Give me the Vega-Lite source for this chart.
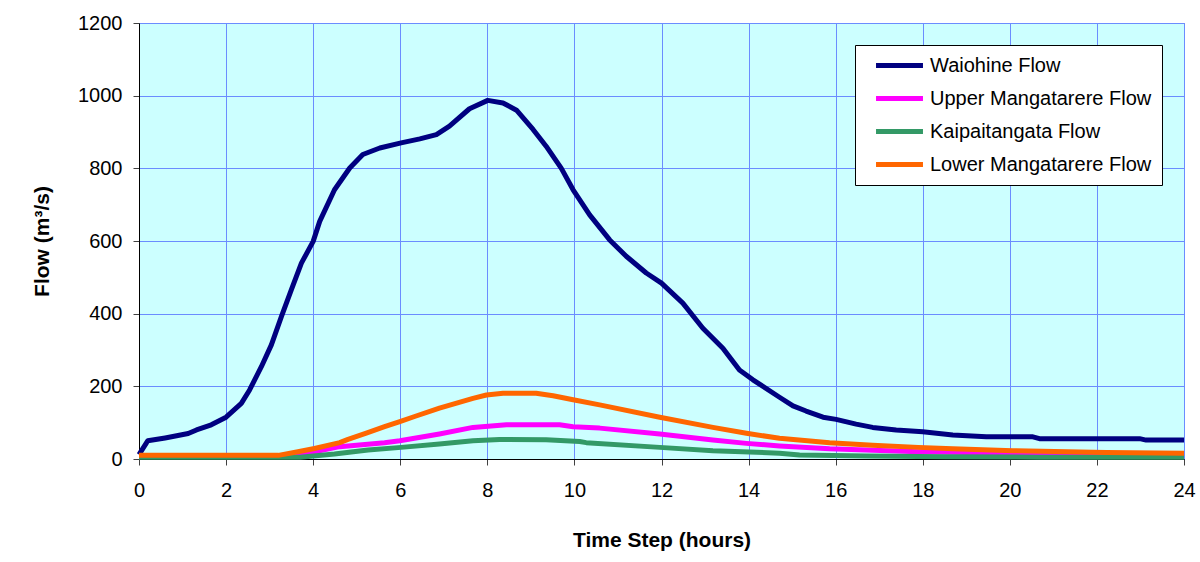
{
  "$schema": "https://vega.github.io/schema/vega-lite/v6.json",
  "width": 1045,
  "height": 436,
  "autosize": {"type": "none"},
  "padding": {"left": 139, "top": 23, "right": 16, "bottom": 103},
  "background": "white",
  "config": {
    "font": "Liberation Sans",
    "view": {"fill": "#CCFFFF", "stroke": "#808080", "strokeWidth": 1}
  },
  "data": {
    "values": [
      {"t": 0, "flow": 12, "series": "Waiohine Flow"},
      {"t": 0.2, "flow": 50, "series": "Waiohine Flow"},
      {"t": 0.6, "flow": 58, "series": "Waiohine Flow"},
      {"t": 1.13, "flow": 70, "series": "Waiohine Flow"},
      {"t": 1.32, "flow": 80, "series": "Waiohine Flow"},
      {"t": 1.66, "flow": 94, "series": "Waiohine Flow"},
      {"t": 2.0, "flow": 115, "series": "Waiohine Flow"},
      {"t": 2.35, "flow": 153, "series": "Waiohine Flow"},
      {"t": 2.54, "flow": 190, "series": "Waiohine Flow"},
      {"t": 2.81, "flow": 254, "series": "Waiohine Flow"},
      {"t": 3.04, "flow": 314, "series": "Waiohine Flow"},
      {"t": 3.27, "flow": 392, "series": "Waiohine Flow"},
      {"t": 3.5, "flow": 466, "series": "Waiohine Flow"},
      {"t": 3.73, "flow": 539, "series": "Waiohine Flow"},
      {"t": 4.0, "flow": 599, "series": "Waiohine Flow"},
      {"t": 4.15, "flow": 654, "series": "Waiohine Flow"},
      {"t": 4.49, "flow": 741, "series": "Waiohine Flow"},
      {"t": 4.84, "flow": 801, "series": "Waiohine Flow"},
      {"t": 5.14, "flow": 838, "series": "Waiohine Flow"},
      {"t": 5.53, "flow": 856, "series": "Waiohine Flow"},
      {"t": 6.02, "flow": 870, "series": "Waiohine Flow"},
      {"t": 6.45, "flow": 881, "series": "Waiohine Flow"},
      {"t": 6.83, "flow": 893, "series": "Waiohine Flow"},
      {"t": 7.13, "flow": 916, "series": "Waiohine Flow"},
      {"t": 7.59, "flow": 964, "series": "Waiohine Flow"},
      {"t": 8.01, "flow": 987, "series": "Waiohine Flow"},
      {"t": 8.36, "flow": 980, "series": "Waiohine Flow"},
      {"t": 8.67, "flow": 960, "series": "Waiohine Flow"},
      {"t": 9.05, "flow": 907, "series": "Waiohine Flow"},
      {"t": 9.35, "flow": 861, "series": "Waiohine Flow"},
      {"t": 9.7, "flow": 800, "series": "Waiohine Flow"},
      {"t": 9.97, "flow": 741, "series": "Waiohine Flow"},
      {"t": 10.35, "flow": 672, "series": "Waiohine Flow"},
      {"t": 10.81, "flow": 603, "series": "Waiohine Flow"},
      {"t": 11.19, "flow": 558, "series": "Waiohine Flow"},
      {"t": 11.65, "flow": 512, "series": "Waiohine Flow"},
      {"t": 12.0, "flow": 484, "series": "Waiohine Flow"},
      {"t": 12.49, "flow": 429, "series": "Waiohine Flow"},
      {"t": 12.95, "flow": 360, "series": "Waiohine Flow"},
      {"t": 13.41, "flow": 305, "series": "Waiohine Flow"},
      {"t": 13.79, "flow": 245, "series": "Waiohine Flow"},
      {"t": 14.1, "flow": 218, "series": "Waiohine Flow"},
      {"t": 14.71, "flow": 170, "series": "Waiohine Flow"},
      {"t": 15.02, "flow": 146, "series": "Waiohine Flow"},
      {"t": 15.32, "flow": 132, "series": "Waiohine Flow"},
      {"t": 15.71, "flow": 115, "series": "Waiohine Flow"},
      {"t": 16.01, "flow": 109, "series": "Waiohine Flow"},
      {"t": 16.47, "flow": 96, "series": "Waiohine Flow"},
      {"t": 16.85, "flow": 87, "series": "Waiohine Flow"},
      {"t": 17.39, "flow": 80, "series": "Waiohine Flow"},
      {"t": 18.0, "flow": 75, "series": "Waiohine Flow"},
      {"t": 18.69, "flow": 66, "series": "Waiohine Flow"},
      {"t": 19.46, "flow": 61, "series": "Waiohine Flow"},
      {"t": 20.53, "flow": 61, "series": "Waiohine Flow"},
      {"t": 20.68, "flow": 56, "series": "Waiohine Flow"},
      {"t": 22.98, "flow": 56, "series": "Waiohine Flow"},
      {"t": 23.13, "flow": 52, "series": "Waiohine Flow"},
      {"t": 24, "flow": 52, "series": "Waiohine Flow"},

      {"t": 0, "flow": 8, "series": "Upper Mangatarere Flow"},
      {"t": 3.2, "flow": 8, "series": "Upper Mangatarere Flow"},
      {"t": 3.8, "flow": 16, "series": "Upper Mangatarere Flow"},
      {"t": 4.03, "flow": 20, "series": "Upper Mangatarere Flow"},
      {"t": 4.61, "flow": 34, "series": "Upper Mangatarere Flow"},
      {"t": 5.64, "flow": 45, "series": "Upper Mangatarere Flow"},
      {"t": 5.99, "flow": 50, "series": "Upper Mangatarere Flow"},
      {"t": 6.9, "flow": 69, "series": "Upper Mangatarere Flow"},
      {"t": 7.67, "flow": 87, "series": "Upper Mangatarere Flow"},
      {"t": 8.44, "flow": 94, "series": "Upper Mangatarere Flow"},
      {"t": 9.66, "flow": 94, "series": "Upper Mangatarere Flow"},
      {"t": 9.97, "flow": 89, "series": "Upper Mangatarere Flow"},
      {"t": 10.58, "flow": 85, "series": "Upper Mangatarere Flow"},
      {"t": 11.96, "flow": 69, "series": "Upper Mangatarere Flow"},
      {"t": 13.18, "flow": 52, "series": "Upper Mangatarere Flow"},
      {"t": 13.95, "flow": 43, "series": "Upper Mangatarere Flow"},
      {"t": 14.71, "flow": 36, "series": "Upper Mangatarere Flow"},
      {"t": 15.86, "flow": 28, "series": "Upper Mangatarere Flow"},
      {"t": 16.85, "flow": 24, "series": "Upper Mangatarere Flow"},
      {"t": 17.9, "flow": 20, "series": "Upper Mangatarere Flow"},
      {"t": 20.07, "flow": 16, "series": "Upper Mangatarere Flow"},
      {"t": 22, "flow": 13, "series": "Upper Mangatarere Flow"},
      {"t": 24, "flow": 12, "series": "Upper Mangatarere Flow"},

      {"t": 0, "flow": 5, "series": "Kaipaitangata Flow"},
      {"t": 3.7, "flow": 5, "series": "Kaipaitangata Flow"},
      {"t": 4.49, "flow": 14, "series": "Kaipaitangata Flow"},
      {"t": 5.26, "flow": 25, "series": "Kaipaitangata Flow"},
      {"t": 6.02, "flow": 32, "series": "Kaipaitangata Flow"},
      {"t": 6.9, "flow": 41, "series": "Kaipaitangata Flow"},
      {"t": 7.67, "flow": 50, "series": "Kaipaitangata Flow"},
      {"t": 8.28, "flow": 54, "series": "Kaipaitangata Flow"},
      {"t": 9.35, "flow": 53, "series": "Kaipaitangata Flow"},
      {"t": 10.12, "flow": 48, "series": "Kaipaitangata Flow"},
      {"t": 10.27, "flow": 45, "series": "Kaipaitangata Flow"},
      {"t": 11.96, "flow": 32, "series": "Kaipaitangata Flow"},
      {"t": 13.18, "flow": 23, "series": "Kaipaitangata Flow"},
      {"t": 14.71, "flow": 16, "series": "Kaipaitangata Flow"},
      {"t": 15.17, "flow": 11, "series": "Kaipaitangata Flow"},
      {"t": 16.7, "flow": 8, "series": "Kaipaitangata Flow"},
      {"t": 18.5, "flow": 6, "series": "Kaipaitangata Flow"},
      {"t": 20.68, "flow": 5, "series": "Kaipaitangata Flow"},
      {"t": 24, "flow": 5, "series": "Kaipaitangata Flow"},

      {"t": 0, "flow": 10, "series": "Lower Mangatarere Flow"},
      {"t": 3.2, "flow": 10, "series": "Lower Mangatarere Flow"},
      {"t": 3.65, "flow": 20, "series": "Lower Mangatarere Flow"},
      {"t": 4.03, "flow": 29, "series": "Lower Mangatarere Flow"},
      {"t": 4.61, "flow": 45, "series": "Lower Mangatarere Flow"},
      {"t": 4.8, "flow": 54, "series": "Lower Mangatarere Flow"},
      {"t": 5.22, "flow": 71, "series": "Lower Mangatarere Flow"},
      {"t": 5.64, "flow": 89, "series": "Lower Mangatarere Flow"},
      {"t": 5.99, "flow": 103, "series": "Lower Mangatarere Flow"},
      {"t": 6.33, "flow": 117, "series": "Lower Mangatarere Flow"},
      {"t": 6.9, "flow": 140, "series": "Lower Mangatarere Flow"},
      {"t": 7.67, "flow": 167, "series": "Lower Mangatarere Flow"},
      {"t": 7.98, "flow": 176, "series": "Lower Mangatarere Flow"},
      {"t": 8.36, "flow": 181, "series": "Lower Mangatarere Flow"},
      {"t": 9.12, "flow": 181, "series": "Lower Mangatarere Flow"},
      {"t": 9.51, "flow": 174, "series": "Lower Mangatarere Flow"},
      {"t": 9.97, "flow": 163, "series": "Lower Mangatarere Flow"},
      {"t": 10.58, "flow": 149, "series": "Lower Mangatarere Flow"},
      {"t": 11.96, "flow": 115, "series": "Lower Mangatarere Flow"},
      {"t": 13.18, "flow": 87, "series": "Lower Mangatarere Flow"},
      {"t": 13.95, "flow": 71, "series": "Lower Mangatarere Flow"},
      {"t": 14.71, "flow": 57, "series": "Lower Mangatarere Flow"},
      {"t": 15.86, "flow": 45, "series": "Lower Mangatarere Flow"},
      {"t": 16.85, "flow": 38, "series": "Lower Mangatarere Flow"},
      {"t": 17.9, "flow": 32, "series": "Lower Mangatarere Flow"},
      {"t": 18.69, "flow": 28, "series": "Lower Mangatarere Flow"},
      {"t": 20.07, "flow": 23, "series": "Lower Mangatarere Flow"},
      {"t": 22.21, "flow": 18, "series": "Lower Mangatarere Flow"},
      {"t": 24, "flow": 16, "series": "Lower Mangatarere Flow"}
    ]
  },
  "mark": {"type": "line", "strokeWidth": 5, "strokeJoin": "round", "strokeCap": "butt"},
  "encoding": {
    "x": {
      "field": "t",
      "type": "quantitative",
      "scale": {"domain": [0, 24], "nice": false, "zero": false},
      "axis": {
        "values": [0, 2, 4, 6, 8, 10, 12, 14, 16, 18, 20, 22, 24],
        "title": "Time Step (hours)",
        "titleFontSize": 21,
        "titleFontWeight": "bold",
        "titleColor": "#000000",
        "titlePadding": 29,
        "labelFontSize": 20,
        "labelColor": "#000000",
        "labelPadding": 15,
        "labelFlush": false,
        "tickColor": "#404040",
        "tickSize": 6,
        "domainColor": "#000000",
        "gridColor": "#6B8CFF",
        "gridOpacity": 1,
        "gridWidth": 1
      }
    },
    "y": {
      "field": "flow",
      "type": "quantitative",
      "scale": {"domain": [0, 1200], "nice": false},
      "axis": {
        "values": [0, 200, 400, 600, 800, 1000, 1200],
        "format": "d",
        "title": "Flow (m³/s)",
        "titleFontSize": 21,
        "titleFontWeight": "bold",
        "titleColor": "#000000",
        "titlePadding": 25,
        "labelFontSize": 20,
        "labelColor": "#000000",
        "labelPadding": 11,
        "labelFlush": false,
        "tickColor": "#404040",
        "tickSize": 6,
        "domainColor": "#000000",
        "gridColor": "#6B8CFF",
        "gridOpacity": 1,
        "gridWidth": 1
      }
    },
    "color": {
      "field": "series",
      "type": "nominal",
      "sort": ["Waiohine Flow", "Upper Mangatarere Flow", "Kaipaitangata Flow", "Lower Mangatarere Flow"],
      "scale": {
        "domain": ["Waiohine Flow", "Upper Mangatarere Flow", "Kaipaitangata Flow", "Lower Mangatarere Flow"],
        "range": ["#000080", "#FF00FF", "#339966", "#FF6600"]
      },
      "legend": {
        "orient": "none",
        "legendX": 716,
        "legendY": 22,
        "title": null,
        "symbolType": "M-3,0H3",
        "symbolSize": 245,
        "symbolStrokeWidth": 5,
        "labelFontSize": 20,
        "labelColor": "#000000",
        "labelLimit": 400,
        "labelOffset": 20,
        "symbolOffset": 24,
        "fillColor": "#FFFFFF",
        "strokeColor": "#000000",
        "padding": 10,
        "rowPadding": 12
      }
    }
  }
}
